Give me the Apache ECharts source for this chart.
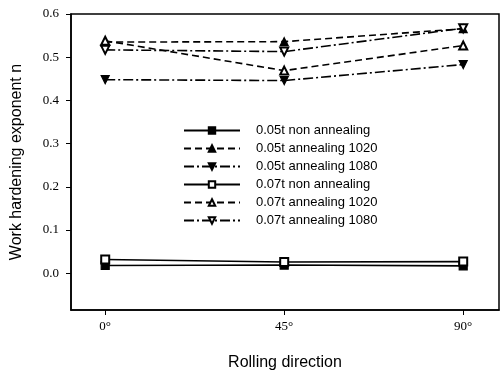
<!DOCTYPE html>
<html><head><meta charset="utf-8">
<script src="https://cdn.jsdelivr.net/npm/echarts@6/dist/echarts.min.js"></script>
<style>html,body{margin:0;padding:0;background:#fff}#c{width:503px;height:376px}</style>
</head><body><div id="c"></div>
<script>
const directions = [0, 45, 90];
const xTickLabels = ['0°', '45°', '90°'];
const yTicks = [0, 0.1, 0.2, 0.3, 0.4, 0.5, 0.6];
const seriesNames = ['0.05t non annealing', '0.05t annealing 1020', '0.05t annealing 1080',
  '0.07t non annealing', '0.07t annealing 1020', '0.07t annealing 1080'];
const t05Non = [0.018, 0.019, 0.017];
const t05A1020 = [0.535, 0.536, 0.566];
const t05A1080 = [0.448, 0.446, 0.483];
const t07Non = [0.032, 0.026, 0.027];
const t07A1020 = [0.538, 0.469, 0.527];
const t07A1080 = [0.517, 0.513, 0.567];

const values = [t05Non, t05A1020, t05A1080, t07Non, t07A1020, t07A1080];
const symbols = ['rect', 'triangle', 'triangle', 'emptyRect', 'emptyTriangle', 'emptyTriangle'];
const rotates = [0, 0, 180, 0, 0, 180];
const dashes = ['solid', [7, 4], [10, 3, 2, 3], 'solid', [7, 4], [10, 3, 2, 3]];

const chart = echarts.init(document.getElementById('c'), null, {renderer: 'canvas'});
const series = values.map((vals, i) => ({
  name: seriesNames[i],
  type: 'line',
  data: vals.map((v, j) => [directions[j], v]),
  symbol: symbols[i],
  symbolRotate: rotates[i],
  symbolSize: 8,
  itemStyle: {color: '#000', borderColor: '#000', borderWidth: 1.2},
  lineStyle: {color: '#000', width: 1.6, type: dashes[i]},
  emphasis: {disabled: true},
  animation: false,
  z: 3
}));

chart.setOption({
  animation: false,
  backgroundColor: '#fff',
  grid: {left: 71, top: 14, right: 4, bottom: 62, show: true, borderColor: '#000', borderWidth: 1.5, backgroundColor: 'transparent'},
  legend: {
    orient: 'vertical', left: 178, top: 119,
    itemWidth: 56, itemHeight: 8, itemGap: 5,
    data: seriesNames,
    textStyle: {fontFamily: 'Liberation Sans', fontSize: 13, color: '#000', padding: [0, 0, 0, 11]},
    selectedMode: false
  },
  xAxis: {
    type: 'value', min: -8.6, max: 99,
    name: 'Rolling direction', nameLocation: 'middle', nameGap: 45,
    nameTextStyle: {fontFamily: 'Liberation Sans', fontSize: 16, color: '#000'},
    axisLine: {show: true, onZero: false, lineStyle: {color: '#000', width: 1.5}},
    axisTick: {show: true, customValues: directions, length: 5, inside: false, lineStyle: {color: '#000'}},
    axisLabel: {customValues: directions, formatter: v => xTickLabels[directions.indexOf(v)], fontFamily: 'Liberation Serif', fontSize: 13, color: '#000', margin: 10},
    splitLine: {show: false}
  },
  yAxis: {
    type: 'value', min: -0.085, max: 0.6,
    name: 'Work hardening exponent n', nameLocation: 'middle', nameGap: 46,
    nameTextStyle: {fontFamily: 'Liberation Sans', fontSize: 16, color: '#000'},
    axisLine: {show: true, onZero: false, lineStyle: {color: '#000', width: 1.5}},
    axisTick: {show: true, customValues: yTicks, length: 5, inside: false, lineStyle: {color: '#000'}},
    axisLabel: {customValues: yTicks, formatter: v => v.toFixed(1), fontFamily: 'Liberation Serif', fontSize: 13, color: '#000', margin: 12},
    splitLine: {show: false}
  },
  series: series
});
</script></body></html>
